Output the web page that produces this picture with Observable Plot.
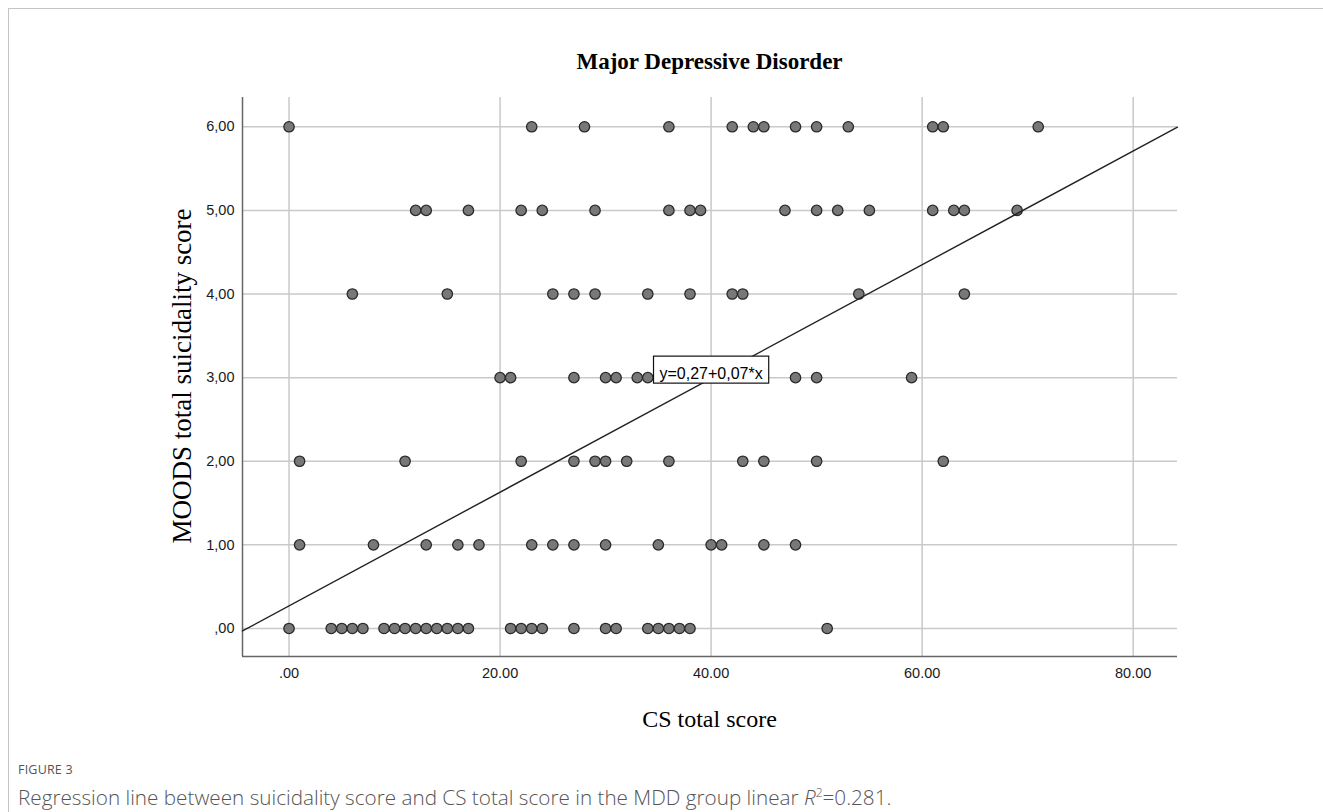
<!DOCTYPE html>
<html>
<head>
<meta charset="utf-8">
<script src="https://cdn.jsdelivr.net/npm/d3@7"></script>
<script src="https://cdn.jsdelivr.net/npm/@observablehq/plot@0.6"></script>
<style>
  body { margin: 0; background: #fff; }
  #page { position: relative; width: 1323px; height: 812px; overflow: hidden; background: #fff; }
  #frame { position: absolute; left: 8px; top: 8px; right: -2px; bottom: -2px; border-left: 1px solid #c4c4c4; border-top: 1px solid #c4c4c4; }
  #title { position: absolute; left: 242px; width: 935px; top: 49px; text-align: center; font-family: "Liberation Serif", serif; font-weight: bold; font-size: 23px; color: #000; }
  #xlabel { position: absolute; left: 242px; width: 935px; top: 706px; text-align: center; font-family: "Liberation Serif", serif; font-size: 24px; color: #000; }
  #ylabel { position: absolute; left: 182px; top: 376px; transform: translate(-50%, -50%) rotate(-90deg); white-space: nowrap; font-family: "Liberation Serif", serif; font-size: 27px; color: #000; }
  #chart { position: absolute; left: 0; top: 0; }
  #fig { position: absolute; left: 18px; top: 761px; font-family: "Open Sans", sans-serif; font-size: 12.5px; color: #555; letter-spacing: 0.2px; }
  #cap { position: absolute; left: 18px; top: 783px; font-family: "Open Sans", sans-serif; font-weight: 300; font-size: 20.7px; color: #555; white-space: nowrap; }
</style>
</head>
<body>
<div id="page">
  <div id="frame"></div>
  <div id="title">Major Depressive Disorder</div>
  <div id="chart"></div>
  <div id="xlabel">CS total score</div>
  <div id="ylabel">MOODS total suicidality score</div>
  <div id="fig">FIGURE 3</div>
  <div id="cap">Regression line between suicidality score and CS total score in the MDD group linear <i>R</i><sup style="font-size:12px">2</sup>=0.281.</div>
</div>
<script>
// CS total scores of the participants, grouped by MOODS total suicidality score
const csAtScore0 = [0,4,5,6,7,9,10,11,12,13,14,15,16,17,21,22,23,24,27,30,31,34,35,36,37,38,51];
const csAtScore1 = [1,8,13,16,18,23,25,27,30,35,40,41,45,48];
const csAtScore2 = [1,11,22,27,29,30,32,36,43,45,50,62];
const csAtScore3 = [20,21,27,30,31,33,34,48,50,59];
const csAtScore4 = [6,15,25,27,29,34,38,42,43,54,64];
const csAtScore5 = [12,13,17,22,24,29,36,38,39,47,50,52,55,61,63,64,69];
const csAtScore6 = [0,23,28,36,42,44,45,48,50,53,61,62,71];

const xTicks = [0, 20, 40, 60, 80];
const yTicks = [0, 1, 2, 3, 4, 5, 6];
const xDomain = [-4.41, 84.2];
const yDomain = [-0.335, 6.35];

// regression line y = intercept + slope * x
const intercept = 0.27;
const slope = 0.068;
const equationLabel = "y=0,27+0,07*x";
const labelAt = {x: 40, y: 3};

const groups = [csAtScore0, csAtScore1, csAtScore2, csAtScore3, csAtScore4, csAtScore5, csAtScore6];
const points = groups.flatMap((xs, score) => xs.map(cs => ({cs, score})));
const fitLine = xDomain.map(x => ({x, y: intercept + slope * x}));

const fmtX = d => d === 0 ? ".00" : d.toFixed(2);
const fmtY = d => d === 0 ? ",00" : d.toFixed(2).replace(".", ",");

function boxedText(index, scales, values, dimensions, context, next) {
  const g = next(index, scales, values, dimensions, context);
  const ctx = document.createElement("canvas").getContext("2d");
  ctx.font = "16px 'Liberation Sans'";
  const w = ctx.measureText(equationLabel).width + 12;
  const h = 27;
  for (const i of index) {
    const cx = values.x[i], cy = values.y[i];
    const r = document.createElementNS("http://www.w3.org/2000/svg", "rect");
    r.setAttribute("x", cx - w / 2);
    r.setAttribute("y", cy - h / 2 - 4);
    r.setAttribute("width", w);
    r.setAttribute("height", h);
    r.setAttribute("fill", "#fff");
    r.setAttribute("stroke", "#111");
    r.setAttribute("stroke-width", "1.2");
    g.insertBefore(r, g.firstChild);
  }
  return g;
}

const chart = Plot.plot({
  width: 1323,
  height: 745,
  marginLeft: 242,
  marginRight: 146,
  marginTop: 97,
  marginBottom: 89,
  style: {fontFamily: "'Liberation Sans', Arial, sans-serif", fontSize: "14px", color: "#222", background: "transparent"},
  x: {domain: xDomain},
  y: {domain: yDomain},
  marks: [
    Plot.gridX(xTicks, {stroke: "#c9c9c9", strokeOpacity: 1, strokeWidth: 1.5}),
    Plot.gridY(yTicks, {stroke: "#c9c9c9", strokeOpacity: 1, strokeWidth: 1.5}),
    Plot.ruleX([xDomain[0]], {stroke: "#666", strokeWidth: 1.5}),
    Plot.ruleY([yDomain[0]], {stroke: "#666", strokeWidth: 1.5}),
    Plot.axisX(xTicks, {tickSize: 0, tickPadding: 11, tickFormat: fmtX, label: null, fontSize: 14.5, fill: "#1a1a1a"}),
    Plot.axisY(yTicks, {tickSize: 0, tickPadding: 8, tickFormat: fmtY, label: null, fontSize: 14.5, fill: "#1a1a1a"}),
    Plot.dot(points, {x: "cs", y: "score", r: 5.2, fill: "#787878", stroke: "#2a2a2a", strokeWidth: 1.3}),
    Plot.line(fitLine, {x: "x", y: "y", stroke: "#222", strokeWidth: 1.4}),
    Plot.text([labelAt], {x: "x", y: "y", dy: -4, text: () => equationLabel, fontSize: 16, fill: "#000", render: boxedText})
  ]
});
document.getElementById("chart").appendChild(chart);
</script>
</body>
</html>
